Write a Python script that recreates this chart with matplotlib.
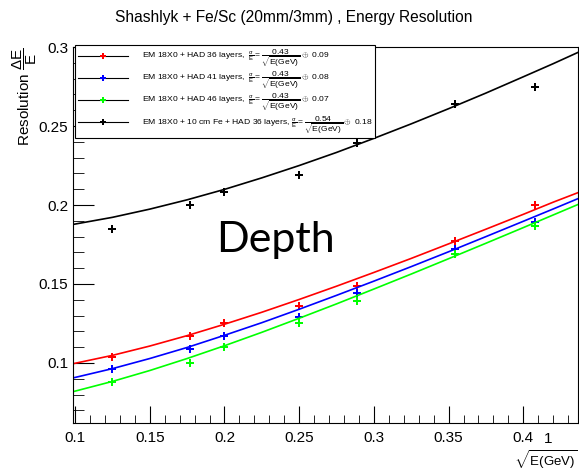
import numpy as np
import matplotlib
matplotlib.use("Agg")
import matplotlib.pyplot as plt
from matplotlib.lines import Line2D
from matplotlib.ticker import MultipleLocator

plt.rcParams["font.family"] = ["Liberation Sans", "DejaVu Sans"]
plt.rcParams["mathtext.fontset"] = "custom"
plt.rcParams["mathtext.rm"] = "Liberation Sans"
plt.rcParams["mathtext.it"] = "Liberation Sans"

# ---- data ----
inv_sqrt_e = [0.125, 0.177, 0.2, 0.25, 0.289, 0.354, 0.408]   # 1/sqrt(E[GeV])
res_had36 = [0.104, 0.117, 0.125, 0.136, 0.149, 0.177, 0.200]
res_had41 = [0.096, 0.109, 0.117, 0.129, 0.144, 0.172, 0.189]
res_had46 = [0.088, 0.100, 0.110, 0.125, 0.139, 0.169, 0.187]
res_fe10 = [0.185, 0.200, 0.208, 0.219, 0.239, 0.264, 0.275]

# fit curves
fit_x = [0.0986, 0.125, 0.15, 0.175, 0.2, 0.225, 0.25, 0.275, 0.3, 0.325,
         0.35, 0.375, 0.4, 0.42, 0.4365]
fit_had36 = [.0995, .1048, .1107, .1173, .1245, .1321, .1402, .1486, .1573, .1662,
             .1754, .1847, .1941, .2018, .2078]
fit_had41 = [.0905, .0964, .1028, .1098, .1175, .1255, .1340, .1428, .1518, .1610,
             .1704, .1800, .1897, .1975, .2040]
fit_had46 = [.0818, .0883, .0952, .1028, .1109, .1194, .1283, .1374, .1468, .1563,
             .1660, .1758, .1857, .1937, .2003]
fit_fe10 = [.1877, .1922, .1974, .2033, .2099, .2172, .2250, .2333, .2422, .2514,
            .2610, .2709, .2812, .2895, .2966]

labels = [
    r"EM 18X0 + HAD 36 layers,  $\frac{\sigma}{E}=\dfrac{0.43}{\sqrt{E(GeV)}}\oplus$ 0.09",
    r"EM 18X0 + HAD 41 layers,  $\frac{\sigma}{E}=\dfrac{0.43}{\sqrt{E(GeV)}}\oplus$ 0.08",
    r"EM 18X0 + HAD 46 layers,  $\frac{\sigma}{E}=\dfrac{0.43}{\sqrt{E(GeV)}}\oplus$ 0.07",
    r"EM 18X0 + 10 cm Fe + HAD 36 layers, $\frac{\sigma}{E}=\dfrac{0.54}{\sqrt{E(GeV)}}\oplus$ 0.18",
]
colors = ["#ff0000", "#0000ff", "#00ff00", "#000000"]
points = [res_had36, res_had41, res_had46, res_fe10]
fits = [fit_had36, fit_had41, fit_had46, fit_fe10]

fig = plt.figure(figsize=(5.79, 4.71), dpi=100)
ax = fig.add_axes([0.126, 0.102, 0.872, 0.798])

for pts, fit, c in zip(points, fits, colors):
    ax.plot(fit_x, fit, color=c, lw=1.2)
    ax.plot(inv_sqrt_e, pts, ls="none", marker="P", ms=5.5, color=c, mew=0)

ax.set_xlim(0.0986, 0.4365)
ax.set_ylim(0.062, 0.3)
ax.xaxis.set_major_locator(MultipleLocator(0.05))
ax.xaxis.set_minor_locator(MultipleLocator(0.01))
ax.yaxis.set_major_locator(MultipleLocator(0.05))
ax.yaxis.set_minor_locator(MultipleLocator(0.01))
ax.tick_params(which="both", direction="in", top=False, right=False, labelsize=11)
ax.tick_params(axis="x", which="major", length=12, pad=6)
ax.tick_params(axis="x", which="minor", length=6)
ax.tick_params(axis="y", which="major", length=15)
ax.tick_params(axis="y", which="minor", length=8)
ax.xaxis.set_major_formatter(plt.FuncFormatter(lambda v, p: f"{v:g}"))
ax.yaxis.set_major_formatter(plt.FuncFormatter(lambda v, p: f"{v:g}"))

handles = [Line2D([0], [0], color="k", lw=0.8, marker="P", ms=5, mfc=c, mec=c, mew=0)
           for c in colors]
leg = ax.legend(handles, labels, loc="upper left", bbox_to_anchor=(0.005, 1.005),
                borderaxespad=0, fontsize=6.1, fancybox=False, edgecolor="k",
                framealpha=1, handlelength=5.8, handletextpad=1.7, labelspacing=0.1,
                borderpad=0.35)
leg.get_frame().set_linewidth(0.8)

fig.text(0.508, 0.962, "Shashlyk + Fe/Sc (20mm/3mm) , Energy Resolution",
         ha="center", va="center", fontsize=11.2)
fig.text(0.043, 0.9, r"Resolution $\dfrac{\Delta E}{E}$", rotation=90,
         ha="center", va="top", fontsize=11)
fig.text(0.947, 0.068, "1", ha="center", va="center", fontsize=11)
fig.text(0.998, 0.0, r"$\sqrt{E(GeV)}$", ha="right", va="bottom", fontsize=9.5)
fig.text(0.373, 0.465, "Depth", fontsize=31,
         family=["Lato", "DejaVu Sans"], ha="left", va="baseline")

fig.savefig("out.png", dpi=100)
